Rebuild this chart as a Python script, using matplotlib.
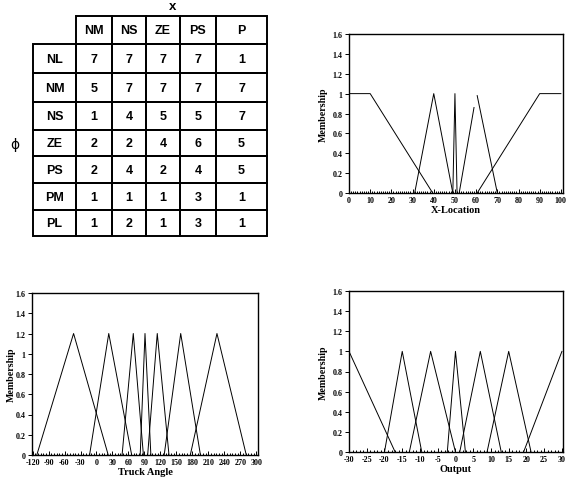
import numpy as np
import matplotlib
matplotlib.use('Agg')
from matplotlib import pyplot as plt
from matplotlib.patches import Rectangle
from matplotlib.ticker import MultipleLocator

plt.rcParams['axes.unicode_minus'] = False

# rule table
col_names = ['NM', 'NS', 'ZE', 'PS', 'P']
row_names = ['NL', 'NM', 'NS', 'ZE', 'PS', 'PM', 'PL']
rule_vals = [[7, 7, 7, 7, 1],
             [5, 7, 7, 7, 7],
             [1, 4, 5, 5, 7],
             [2, 2, 4, 6, 5],
             [2, 4, 2, 4, 5],
             [1, 1, 1, 3, 1],
             [1, 2, 1, 3, 1]]

# membership functions (breakpoints x, membership y)
xloc_x = [[0, 10, 39.5], [31, 40, 49], [49, 50, 51], [52, 59], [60.5, 70], [60.5, 90, 100]]
xloc_y = [[1, 1, 0], [0, 1, 0], [0, 1, 0], [0, 0.86], [0.98, 0], [0, 1, 1]]

angle_x = [[-112, -43, 22], [-13, 23, 66], [48, 69, 88], [82, 91, 102],
           [96, 114, 136], [127, 158, 195], [176, 226, 281]]
angle_y = [[0, 1.2, 0]] * 7

out_x = [[-30, -17], [-20, -15, -9.5], [-13, -7, 0], [-2.3, 0, 2.8],
         [1.2, 7, 12.9], [8.9, 15, 21.3], [19.2, 30]]
out_y = [[1, 0], [0, 1, 0], [0, 1, 0], [0, 1, 0], [0, 1, 0], [0, 1, 0], [0, 1]]

W, H = 568, 481
fg = plt.figure(figsize=(W / 100, H / 100), dpi=100)

# ---- table drawn in pixel coords
tax = fg.add_axes([0, 0, 1, 1])
tax.set_xlim(0, W)
tax.set_ylim(H, 0)
tax.axis('off')
xb = [76, 112, 146, 180, 216, 267]
yb = [17, 45, 74, 103, 131, 157, 184, 211, 237]
lbl_x = [33, 76]
tfont = dict(family='Liberation Sans', fontsize=9, weight='bold', ha='center', va='center')


def cell(x0, x1, y0, y1, txt):
    tax.add_patch(Rectangle((x0, y0), x1 - x0, y1 - y0, fill=False, lw=1.4, ec='k'))
    tax.text((x0 + x1) / 2, (y0 + y1) / 2 + 0.5, txt, **tfont)


for j, c in enumerate(col_names):
    cell(xb[j], xb[j + 1], yb[0], yb[1], c)
for i, r in enumerate(row_names):
    cell(lbl_x[0], lbl_x[1], yb[i + 1], yb[i + 2], r)
    for j in range(len(col_names)):
        cell(xb[j], xb[j + 1], yb[i + 1], yb[i + 2], str(rule_vals[i][j]))
tax.text(173, 7, 'x', family='Liberation Sans', fontsize=9.5, weight='bold', ha='center', va='center')
tax.text(15, 145, '\u03d5', family='DejaVu Sans', fontsize=10, ha='center', va='center')

sfont = dict(family='Liberation Serif', weight='bold')


def mf_axes(rect, xs, ys, xlim, xmaj, xmin, xlabel, ylab_x):
    ax = fg.add_axes(rect)
    for x, y in zip(xs, ys):
        ax.plot(x, y, 'k', lw=0.7)
    ax.set_xlim(xlim)
    ax.set_ylim(0, 1.6)
    ax.xaxis.set_major_locator(MultipleLocator(xmaj))
    ax.xaxis.set_minor_locator(MultipleLocator(xmin))
    yt = np.arange(0, 1.61, 0.2).round(1)
    ax.set_yticks(yt)
    ax.set_yticklabels([('%g' % v) for v in yt])
    ax.tick_params(axis='x', which='major', direction='in', length=3, width=0.7, pad=2)
    ax.tick_params(axis='x', which='minor', direction='in', length=1.5, width=0.7)
    ax.tick_params(axis='y', which='major', direction='out', length=3, width=0.7, pad=1.5)
    for lab in ax.get_xticklabels() + ax.get_yticklabels():
        lab.set_fontproperties(dict(family='Liberation Serif', weight='bold', size=5.8))
    ax.set_xlabel(xlabel, fontsize=7.5, labelpad=1, **sfont)
    ax.set_ylabel('Membership', fontsize=7.2, **sfont)
    ax.yaxis.set_label_coords(ylab_x, 0.5)
    for s in ax.spines.values():
        s.set_linewidth(1.0)
    return ax


mf_axes([349 / W, 1 - 194 / H, 214 / W, 159 / H], xloc_x, xloc_y, (0, 101), 10, 1, 'X-Location', -0.10)
mf_axes([32 / W, 1 - 456 / H, 226 / W, 162 / H], angle_x, angle_y, (-121, 303), 30, 5, 'Truck Angle', -0.07)
mf_axes([349 / W, 1 - 453 / H, 214 / W, 161 / H], out_x, out_y, (-30, 30.3), 5, 1, 'Output', -0.10)

fg.savefig('out.png', dpi=100)
